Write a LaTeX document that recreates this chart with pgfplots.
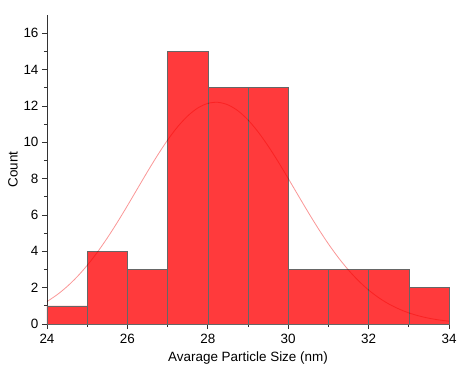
\documentclass[border=0pt]{standalone}
\usepackage{pgfplots}
\pgfplotsset{compat=1.18}
\usepackage{fontspec}
\setmainfont{Liberation Sans}
\definecolor{barred}{RGB}{255,58,60}
\definecolor{curvepink}{RGB}{250,150,150}
\begin{document}
\begin{tikzpicture}
\begin{axis}[
  scale only axis,
  width=402bp, height=309bp,
  xmin=24, xmax=34, ymin=0, ymax=17,
  axis x line*=bottom, axis y line*=left,
  axis line style={black!80, line width=0.7pt},
  xtick={24,26,...,34}, ytick={0,2,...,16},
  minor xtick={25,27,...,33}, minor ytick={1,3,...,15},
  tick align=outside,
  major tick length=5bp, minor tick length=3bp,
  tick style={black!80, line width=0.7pt},
  tick label style={font=\fontsize{13.5}{15}\selectfont},
  /pgf/number format/assume math mode=true,
  xlabel={Avarage Particle Size (nm)},
  ylabel={Count},
  label style={font=\fontsize{13.5}{15}\selectfont},
  xlabel style={yshift=-1bp},
  ylabel style={yshift=-1bp},
  xticklabel style={yshift=-1.5bp},
  clip=false,
]
\addplot[ybar interval, fill=barred, draw=black!60, line width=0.5pt] coordinates {
(24,1) (25,4) (26,3) (27,15) (28,13) (29,13) (30,3) (31,3) (32,3) (33,2) (34,2)
};
\addplot[smooth, color=curvepink, blend mode=multiply, line width=0.8pt] coordinates {
(24,1.234) (24.25,1.608) (24.5,2.062) (24.75,2.600) (25,3.227) (25.25,3.940)
(25.5,4.733) (25.75,5.595) (26,6.507) (26.25,7.446) (26.5,8.383) (26.75,9.284)
(27,10.119) (27.25,10.851) (27.5,11.447) (27.75,11.883) (28,12.137) (28.25,12.196)
(28.5,12.058) (28.75,11.730) (29,11.228) (29.25,10.572) (29.5,9.795) (29.75,8.930)
(30,8.008) (30.25,7.069) (30.5,6.138) (30.75,5.244) (31,4.407) (31.25,3.645)
(31.5,2.966) (31.75,2.374) (32,1.870) (32.25,1.449) (32.5,1.105) (32.75,0.830)
(33,0.612) (33.25,0.445) (33.5,0.318) (33.75,0.223) (34,0.154)
};
\end{axis}
\pgfresetboundingbox
\path[use as bounding box] (-47bp,-45bp) rectangle (411bp,324bp);
\end{tikzpicture}
\end{document}
